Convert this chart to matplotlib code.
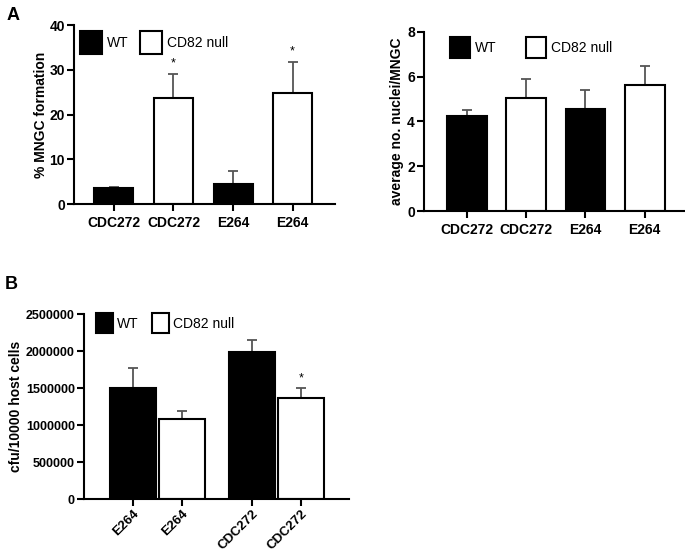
import matplotlib
matplotlib.use("Agg")
import matplotlib.pyplot as plt
from matplotlib.patches import Patch

plt.rcParams['font.family'] = ['Liberation Sans', 'DejaVu Sans']

# Panel A left: % MNGC formation
a1_labels = ["CDC272", "CDC272", "E264", "E264"]
a1_values = [3.6, 23.8, 4.5, 24.9]
a1_err = [0.2, 5.3, 2.8, 6.9]
a1_groups = ["WT", "CD82 null", "WT", "CD82 null"]
a1_star = [False, True, False, True]

# Panel A right: average no. nuclei/MNGC
a2_labels = ["CDC272", "CDC272", "E264", "E264"]
a2_values = [4.23, 5.06, 4.55, 5.63]
a2_err = [0.30, 0.84, 0.84, 0.84]
a2_groups = ["WT", "CD82 null", "WT", "CD82 null"]

# Panel B: cfu/10000 host cells
b_labels = ["E264", "E264", "CDC272", "CDC272"]
b_values = [1505000, 1080000, 1986000, 1368000]
b_err = [259000, 110000, 159000, 127000]
b_groups = ["WT", "CD82 null", "WT", "CD82 null"]
b_star = [False, False, False, True]

colors = {"WT": "black", "CD82 null": "white"}

fig = plt.figure(figsize=(6.85, 5.56), dpi=100)

def style(ax, size=10):
    for s in ["top", "right"]:
        ax.spines[s].set_visible(False)
    for s in ["left", "bottom"]:
        ax.spines[s].set_linewidth(1.5)
    ax.tick_params(width=1.5, length=5, labelsize=size, direction="out")
    ax.tick_params(axis="y", pad=1.5)
    for t in ax.get_xticklabels() + ax.get_yticklabels():
        t.set_fontweight("bold")

def bars(ax, pos, vals, errs, groups, width):
    ax.bar(pos, vals, width=width, color=[colors[g] for g in groups],
           edgecolor="black", linewidth=1.5, zorder=2)
    ax.errorbar(pos, vals, yerr=[[0]*len(vals), errs], fmt="none",
                ecolor="#555555", elinewidth=1.3, capsize=3.5, capthick=1.3, zorder=1)

def legend(ax, x, y, hl, hh, tp, cs):
    h = [Patch(facecolor="black", edgecolor="black", linewidth=1.5, label="WT"),
         Patch(facecolor="white", edgecolor="black", linewidth=1.5, label="CD82 null")]
    ax.legend(handles=h, ncol=2, frameon=False, loc="upper left", bbox_to_anchor=(x, y),
              fontsize=10, handlelength=hl, handleheight=hh, columnspacing=cs,
              handletextpad=tp, borderpad=0, borderaxespad=0)

# A left
ax1 = fig.add_axes([0.108, 0.633, 0.381, 0.322])
pos1 = [0, 1, 2, 3]
bars(ax1, pos1, a1_values, a1_err, a1_groups, 0.655)
ax1.set_xlim(-0.67, 3.71)
ax1.set_ylim(0, 40)
ax1.set_yticks([0, 10, 20, 30, 40])
ax1.set_xticks(pos1)
ax1.set_xticklabels(a1_labels)
ax1.set_ylabel("% MNGC formation", fontsize=10, fontweight="bold")
ax1.yaxis.set_label_coords(-0.10, 0.5)
for p, v, e, s in zip(pos1, a1_values, a1_err, a1_star):
    if s:
        ax1.text(p, v + e + 1.0, "*", ha="center", va="bottom", fontsize=9)
style(ax1)
legend(ax1, 0.023, 0.966, 1.58, 2.17, 0.36, 0.8)

# A right
ax2 = fig.add_axes([0.619, 0.6205, 0.381, 0.322])
pos2 = [0, 1, 2, 3]
bars(ax2, pos2, a2_values, a2_err, a2_groups, 0.67)
ax2.set_xlim(-0.725, 3.68)
ax2.set_ylim(0, 8)
ax2.set_yticks([0, 2, 4, 6, 8])
ax2.set_xticks(pos2)
ax2.set_xticklabels(a2_labels)
ax2.set_ylabel("average no. nuclei/MNGC", fontsize=10, fontweight="bold")
ax2.yaxis.set_label_coords(-0.075, 0.5)
style(ax2)
legend(ax2, 0.10, 0.972, 1.4, 1.95, 0.42, 2.1)

# B
ax3 = fig.add_axes([0.1226, 0.1025, 0.387, 0.3327])
pos3 = [0, 1, 2.43, 3.43]
bars(ax3, pos3, b_values, b_err, b_groups, 0.94)
ax3.set_xlim(-1.0, 4.41)
ax3.set_ylim(0, 2500000)
ax3.set_yticks([0, 500000, 1000000, 1500000, 2000000, 2500000])
ax3.set_yticklabels(["0", "500000", "1000000", "1500000", "2000000", "2500000"])
ax3.set_xticks(pos3)
ax3.set_xticklabels(b_labels, rotation=45, ha="right", rotation_mode="anchor")
ax3.set_ylabel("cfu/10000 host cells", fontsize=10, fontweight="bold")
ax3.yaxis.set_label_coords(-0.23, 0.5)
for p, v, e, s in zip(pos3, b_values, b_err, b_star):
    if s:
        ax3.text(p, v + e + 50000, "*", ha="center", va="bottom", fontsize=9)
style(ax3, 9.5)
ax3.tick_params(axis="y", labelsize=9)
ax3.tick_params(axis="x", pad=1.5)
legend(ax3, 0.045, 1.005, 1.22, 1.84, 0.29, 1.0)

fig.text(0.009, 0.987, "A", fontsize=13, fontweight="bold", va="top", ha="left")
fig.text(0.007, 0.504, "B", fontsize=13, fontweight="bold", va="top", ha="left")

fig.savefig("out.png", dpi=100)
